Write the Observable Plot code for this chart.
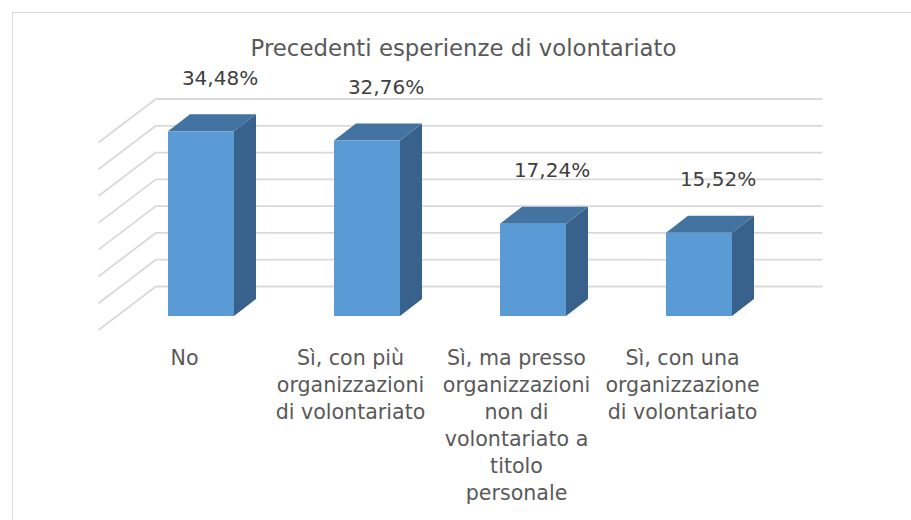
<!DOCTYPE html>
<html><head><meta charset="utf-8">
<script src="https://cdn.jsdelivr.net/npm/d3@7"></script>
<script src="https://cdn.jsdelivr.net/npm/@observablehq/plot@0.6"></script>
<style>
body{margin:0;background:#fff;}
#wrap{position:relative;width:911px;height:520px;overflow:hidden;font-family:"DejaVu Sans",sans-serif;}
#frame{position:absolute;left:12px;top:12px;width:940px;height:540px;border:1px solid #d9d9d9;box-sizing:border-box;}
#title{position:absolute;left:0;top:37px;width:927px;text-align:center;font-size:22.8px;line-height:22px;color:#595959;white-space:nowrap;}
#chart{position:absolute;left:0;top:0;}
</style></head><body>
<div id="wrap"><div id="frame"></div><div id="title">Precedenti esperienze di volontariato</div><div id="chart"></div></div>
<script>
const categories = ["No", "Sì, con più organizzazioni di volontariato", "Sì, ma presso organizzazioni non di volontariato a titolo personale", "Sì, con una organizzazione di volontariato"];
const tickLabels = ["No", "Sì, con più\norganizzazioni\ndi volontariato", "Sì, ma presso\norganizzazioni\nnon di\nvolontariato a\ntitolo\npersonale", "Sì, con una\norganizzazione\ndi volontariato"];
const values = [34.48, 32.76, 17.24, 15.52];
const gridTicks = [0, 5, 10, 15, 20, 25, 30, 35];

const frontColor = "#5b9bd5", topColor = "#4373a1", sideColor = "#38628b", gridColor = "#d9d9d9";
const D = {bx: 22, by: -17, wx: 39.5, wy: -30, fx: -18.5, fy: 14};
const fmt = v => v.toFixed(2).replace(".", ",") + "%";
const data = categories.map((c, i) => ({cat: c, label: tickLabels[i], value: values[i]}));

const sideWalls = (index, scales, vals, dims) => {
  const y = scales.y;
  const g = d3.create("svg:g").attr("stroke", gridColor).attr("stroke-width", 1.8).attr("fill", "none");
  const x0 = dims.marginLeft;
  for (const t of gridTicks) {
    g.append("line").attr("x1", x0 + D.wx).attr("y1", y(t) + D.wy).attr("x2", x0 + D.fx).attr("y2", y(t) + D.fy);
  }
  return g.node();
};
const faces = (index, scales) => {
  const x = scales.x, y = scales.y;
  const bw = x.bandwidth();
  const g = d3.create("svg:g");
  for (const d of data) {
    const xl = x(d.cat), xr = xl + bw, yt = y(d.value), yb = y(0);
    g.append("polygon").attr("points", [[xr, yb], [xr, yt], [xr + D.bx, yt + D.by], [xr + D.bx, yb + D.by]].join(" ")).attr("fill", sideColor);
    g.append("polygon").attr("points", [[xl, yt], [xr, yt], [xr + D.bx, yt + D.by], [xl + D.bx, yt + D.by]].join(" ")).attr("fill", topColor);
  }
  return g.node();
};

const chart = Plot.plot({
  width: 911, height: 520,
  marginLeft: 117, marginRight: 128, marginTop: 128.5, marginBottom: 204,
  style: {fontFamily: '"DejaVu Sans", sans-serif', background: "transparent", overflow: "visible"},
  x: {domain: categories, paddingInner: 0.6, paddingOuter: 0.3, axis: null},
  y: {domain: [0, 35], axis: null},
  marks: [
    Plot.ruleY(gridTicks, {dx: D.wx, dy: D.wy, stroke: gridColor, strokeWidth: 1.8}),
    sideWalls,
    faces,
    Plot.barY(data, {x: "cat", y: "value", fill: frontColor}),
    Plot.text(data, {x: "cat", y: "value", text: d => fmt(d.value), dx: 18.5, dy: -47, lineAnchor: "bottom", fontSize: 20, fill: "#404040"}),
    Plot.text(data, {x: "cat", text: "label", frameAnchor: "bottom", lineAnchor: "top", dx: -17, dy: 29, fontSize: 20.6, lineHeight: 1.31, fill: "#595959"})
  ]
});
document.getElementById("chart").appendChild(chart);
</script>
</body></html>
